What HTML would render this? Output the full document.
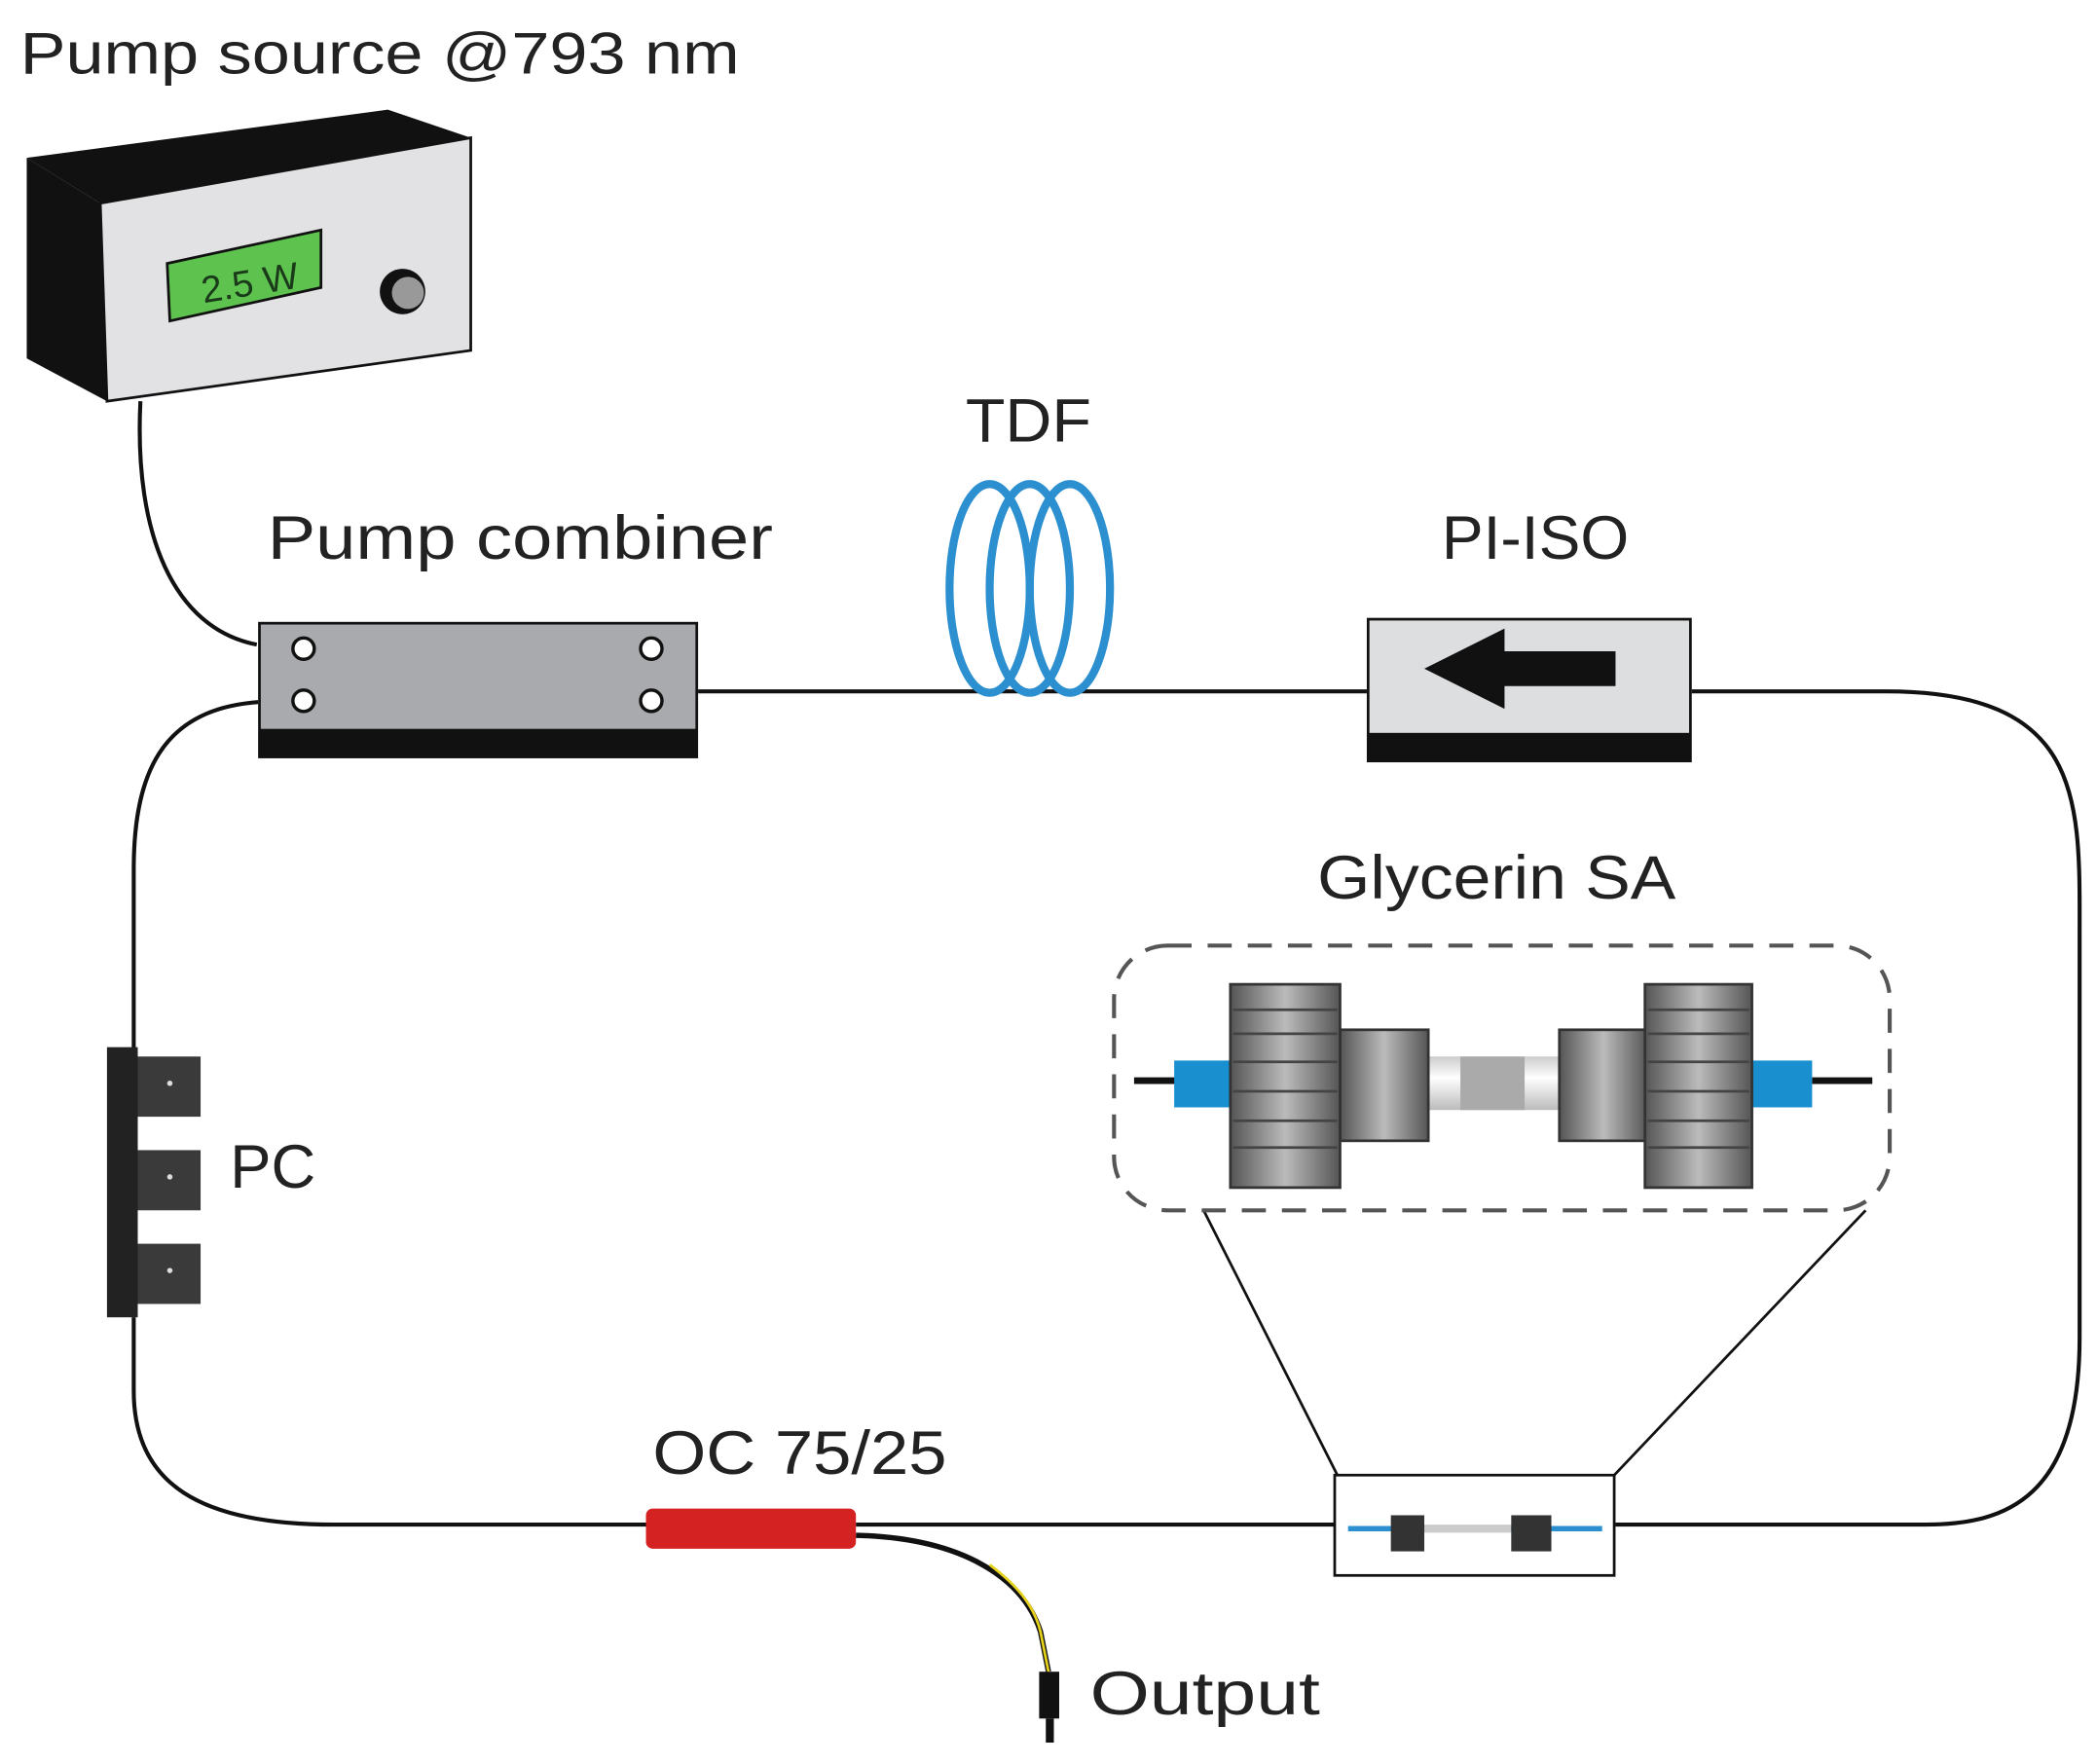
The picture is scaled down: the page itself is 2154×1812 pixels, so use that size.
<!DOCTYPE html>
<html><head><meta charset="utf-8"><style>html,body{margin:0;padding:0;background:#fff}svg{display:block}</style></head>
<body>
<svg width="2154" height="1812" viewBox="0 0 1568 1319" preserveAspectRatio="none" xmlns="http://www.w3.org/2000/svg" font-family="Liberation Sans, sans-serif" fill="#222">
<defs>
<linearGradient id="fg" x1="0" x2="1" y1="0" y2="0"><stop offset="0" stop-color="#555"/><stop offset=".5" stop-color="#bbb"/><stop offset="1" stop-color="#555"/></linearGradient>
<linearGradient id="tg" x1="0" x2="0" y1="0" y2="1"><stop offset="0" stop-color="#ccc"/><stop offset=".4" stop-color="#fff"/><stop offset="1" stop-color="#bbb"/></linearGradient>
</defs>
<text x="15" y="55" font-size="44" textLength="538" lengthAdjust="spacingAndGlyphs">Pump source @793 nm</text>
<!-- pump box -->
<polygon points="20,118 290,82 352,103 75,152" fill="#111"/>
<polygon points="20,118 75,152 80,300 20,268" fill="#111"/>
<polygon points="75,152 352,103 352,262 80,300" fill="#e2e2e4" stroke="#111" stroke-width="2"/>
<polygon points="125,197 240,172 240,215 127,240" fill="#5ec24f" stroke="#111" stroke-width="2"/>
<text x="150" y="222" font-size="28" fill="#1a3a1a" transform="rotate(-9 180 210)">2.5 W</text>
<circle cx="301" cy="218" r="17" fill="#111"/><circle cx="305" cy="219" r="12" fill="#999"/>
<path d="M105,300 C100,400 130,470 192,482" fill="none" stroke="#111" stroke-width="3"/>
<!-- loop -->
<g fill="none" stroke="#111" stroke-width="3">
<path d="M522,517 H1022"/>
<path d="M1265,517 H1410 C1560,517 1555,600 1555,700 V1000 C1555,1120 1500,1140 1440,1140 H1208"/>
<path d="M193,525 C120,530 100,580 100,650 V785"/>
<path d="M100,985 V1040 C100,1110 150,1140 250,1140 H483"/>
<path d="M640,1140 H1000"/>
<path d="M900,905 L1000,1103 M1395,905 L1207,1103" stroke-width="2"/>
</g>
<path d="M640,1148 C720,1150 765,1180 778,1220 L784,1250" fill="none" stroke="#111" stroke-width="4"/>
<path d="M740,1170 C760,1185 773,1200 778,1220 L784,1250" fill="none" stroke="#e6d21a" stroke-width="2"/>
<rect x="777" y="1250" width="15" height="35" fill="#111"/><rect x="782" y="1285" width="6" height="18" fill="#111"/>
<text x="815" y="1282" font-size="46" textLength="172" lengthAdjust="spacingAndGlyphs">Output</text>
<!-- combiner -->
<text x="200" y="418" font-size="46" textLength="378" lengthAdjust="spacingAndGlyphs">Pump combiner</text>
<rect x="193" y="465" width="329" height="102" fill="#111"/>
<rect x="195" y="467" width="325" height="78" fill="#a8aaad"/>
<g fill="#fff" stroke="#111" stroke-width="2.5"><circle cx="227" cy="485" r="8"/><circle cx="227" cy="524" r="8"/><circle cx="487" cy="485" r="8"/><circle cx="487" cy="524" r="8"/></g>
<!-- TDF -->
<text x="722" y="330" font-size="46" textLength="94" lengthAdjust="spacingAndGlyphs">TDF</text>
<g fill="none" stroke="#2b8fd0" stroke-width="6"><ellipse cx="740" cy="440" rx="30" ry="78"/><ellipse cx="770" cy="440" rx="30" ry="78"/><ellipse cx="800" cy="440" rx="30" ry="78"/></g>
<!-- PI-ISO -->
<text x="1078" y="418" font-size="46" textLength="140" lengthAdjust="spacingAndGlyphs">PI-ISO</text>
<rect x="1022" y="462" width="243" height="108" fill="#111"/>
<rect x="1024" y="464" width="239" height="84" fill="#dddee0"/>
<polygon points="1065,500 1125,470 1125,487 1208,487 1208,513 1125,513 1125,530" fill="#111"/>
<!-- PC -->
<rect x="80" y="783" width="23" height="202" fill="#222"/>
<g fill="#3a3a3a"><rect x="103" y="790" width="47" height="45"/><rect x="103" y="860" width="47" height="45"/><rect x="103" y="930" width="47" height="45"/></g>
<g fill="#ddd"><circle cx="127" cy="810" r="2"/><circle cx="127" cy="880" r="2"/><circle cx="127" cy="950" r="2"/></g>
<text x="172" y="888" font-size="46" textLength="64" lengthAdjust="spacingAndGlyphs">PC</text>
<!-- OC -->
<text x="488" y="1102" font-size="46" textLength="220" lengthAdjust="spacingAndGlyphs">OC 75/25</text>
<rect x="483" y="1128" width="157" height="30" rx="5" fill="#d42222"/>
<!-- small SA box -->
<rect x="998" y="1103" width="209" height="75" fill="#fff" stroke="#111" stroke-width="2"/>
<path d="M1008,1143 H1198" stroke="#2b8fd0" stroke-width="4"/>
<path d="M1065,1143 H1130" stroke="#ccc" stroke-width="6"/>
<rect x="1040" y="1133" width="25" height="27" fill="#333"/><rect x="1130" y="1133" width="30" height="27" fill="#333"/>
<!-- Glycerin SA -->
<text x="985" y="672" font-size="46" textLength="268" lengthAdjust="spacingAndGlyphs">Glycerin SA</text>
<rect x="833" y="707" width="580" height="198" rx="40" fill="none" stroke="#555" stroke-width="3" stroke-dasharray="18,12"/>
<path d="M848,808 H880 M1355,808 H1400" stroke="#111" stroke-width="5"/>
<rect x="878" y="793" width="44" height="35" fill="#1a8fd0"/><rect x="1310" y="793" width="45" height="35" fill="#1a8fd0"/>
<rect x="1066" y="790" width="102" height="40" fill="url(#tg)"/><rect x="1092" y="790" width="48" height="40" fill="#aaa"/>
<rect x="1002" y="770" width="66" height="83" fill="url(#fg)" stroke="#333" stroke-width="2"/>
<rect x="1166" y="770" width="66" height="83" fill="url(#fg)" stroke="#333" stroke-width="2"/>
<rect x="920" y="736" width="82" height="152" fill="url(#fg)" stroke="#333" stroke-width="2"/>
<rect x="1230" y="736" width="80" height="152" fill="url(#fg)" stroke="#333" stroke-width="2"/>
<g stroke="#444" stroke-width="2"><path d="M922,755H1000M922,773H1000M922,794H1000M922,816H1000M922,838H1000M922,858H1000M1232,755H1308M1232,773H1308M1232,794H1308M1232,816H1308M1232,838H1308M1232,858H1308"/></g>
</svg>
</body></html>
